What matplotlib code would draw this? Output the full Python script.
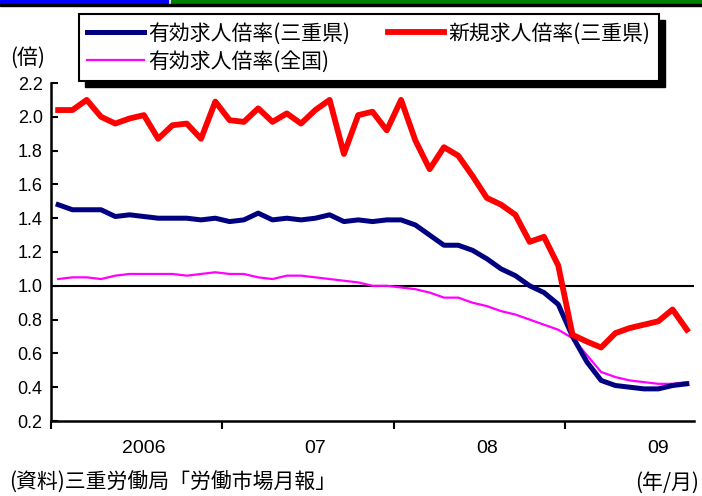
"""Job-opening ratio in Mie vs. national, monthly 2006/1 - 2009/9."""

import matplotlib

matplotlib.use("Agg")
import matplotlib.pyplot as plt
from matplotlib.patches import Rectangle

# monthly values, Jan 2006 .. Sep 2009 (45 months)
active_mie = [
    1.48, 1.45, 1.45, 1.45, 1.41, 1.42, 1.41, 1.40, 1.40, 1.40, 1.39, 1.40,
    1.38, 1.39, 1.43, 1.39, 1.40, 1.39, 1.40, 1.42, 1.38, 1.39, 1.38, 1.39,
    1.39, 1.36, 1.30, 1.24, 1.24, 1.21, 1.16, 1.10, 1.06, 1.00, 0.96, 0.89,
    0.70, 0.55, 0.44, 0.41, 0.40, 0.39, 0.39, 0.41, 0.42,
]
new_mie = [
    2.04, 2.04, 2.10, 2.00, 1.96, 1.99, 2.01, 1.87, 1.95, 1.96, 1.87, 2.09,
    1.98, 1.97, 2.05, 1.97, 2.02, 1.96, 2.04, 2.10, 1.78, 2.01, 2.03, 1.92,
    2.10, 1.86, 1.69, 1.82, 1.77, 1.65, 1.52, 1.48, 1.42, 1.26, 1.29, 1.12,
    0.71, 0.67, 0.635, 0.72, 0.75, 0.77, 0.79, 0.86, 0.74,
]
active_japan = [
    1.04, 1.05, 1.05, 1.04, 1.06, 1.07, 1.07, 1.07, 1.07, 1.06, 1.07, 1.08,
    1.07, 1.07, 1.05, 1.04, 1.06, 1.06, 1.05, 1.04, 1.03, 1.02, 1.00, 1.00,
    0.99, 0.98, 0.96, 0.93, 0.93, 0.90, 0.88, 0.85, 0.83, 0.80, 0.77, 0.74,
    0.69, 0.59, 0.49, 0.46, 0.44, 0.43, 0.42, 0.42, 0.43,
]
year_labels = ["2006", "07", "08", "09"]
year_label_pos = [6, 18, 30, 42]  # July of each year
year_bounds = [-0.5, 11.5, 23.5, 35.5]

JP = ["Noto Sans CJK JP", "DejaVu Sans"]
plt.rcParams["font.family"] = ["Liberation Sans", "DejaVu Sans"]

W, H = 702, 496
fig = plt.figure(figsize=(W / 100, H / 100), dpi=100)
ax = fig.add_axes([51 / W, 1 - 421 / H, 643 / W, 338 / H])

x = list(range(len(active_mie)))
ax.axhline(1.0, color="black", lw=1.5, zorder=1)
l_jp, = ax.plot(x, active_japan, color="#FF00FF", lw=1.6, zorder=2)
l_act, = ax.plot(x, active_mie, color="#000080", lw=3.6, zorder=3)
l_new, = ax.plot(x, new_mie, color="#FF0000", lw=4.2, zorder=4)

ax.set_xlim(-0.5, len(x) - 0.5)
ax.set_ylim(0.2, 2.2)
ax.set_yticks([0.2 + 0.2 * i for i in range(11)])
ax.set_yticklabels([f"{0.2 + 0.2 * i:.1f}" for i in range(11)], fontsize=13)
ax.tick_params(axis="y", direction="in", length=5, width=1.5, pad=6)

ax.set_xticks(year_bounds)
ax.set_xticklabels([])
ax.tick_params(axis="x", which="major", direction="out", length=6, width=1.5)
ax.set_xticks(year_label_pos, minor=True)
ax.set_xticklabels(year_labels, minor=True, fontsize=14)
ax.tick_params(axis="x", which="minor", length=0, pad=14)

for side in ("top", "right"):
    ax.spines[side].set_visible(False)
for side in ("left", "bottom"):
    ax.spines[side].set_linewidth(1.8)

# legend: column-major fill -> [blue, magenta] | [red]
leg = fig.legend(
    [l_act, l_jp, l_new],
    ["有効求人倍率(三重県)", "有効求人倍率(全国)", "新規求人倍率(三重県)"],
    loc="upper left", bbox_to_anchor=(79 / W, 1 - 14 / H),
    ncol=2, frameon=True, fancybox=False, framealpha=1,
    prop={"family": JP, "size": 15},
    handlelength=2.7, handletextpad=0.2, columnspacing=1.85,
    labelspacing=0.3, borderpad=0.4, borderaxespad=0,
)
leg.get_frame().set_edgecolor("black")
leg.get_frame().set_facecolor("white")
leg.get_frame().set_linewidth(1.5)
fig.canvas.draw()
bb = leg.get_window_extent().transformed(fig.transFigure.inverted())
fig.patches.append(Rectangle((bb.x0 + 6 / W, bb.y0 - 6 / H), bb.width, bb.height,
                             transform=fig.transFigure, color="black", zorder=0.5))

# coloured bars across the top edge
fig.patches.append(Rectangle((0, 1 - 3 / H), 168 / W, 3 / H,
                             transform=fig.transFigure, color="#0000FF"))
fig.patches.append(Rectangle((171 / W, 1 - 3 / H), 531 / W, 3 / H,
                             transform=fig.transFigure, color="#008000"))
fig.patches.append(Rectangle((0, 1 - 6 / H), 1, 2 / H,
                             transform=fig.transFigure, color="black"))

fig.text(10 / W, 1 - 58 / H, "(倍)", fontsize=15, family=JP, va="center", ha="left")
fig.text(9 / W, 1 - 483 / H, "(資料)三重労働局「労働市場月報」", fontsize=15,
         family=JP, va="center", ha="left")
fig.text(699 / W, 1 - 483 / H, "(年/月)", fontsize=15, family=JP,
         va="center", ha="right")

fig.savefig("out.png", dpi=100)
